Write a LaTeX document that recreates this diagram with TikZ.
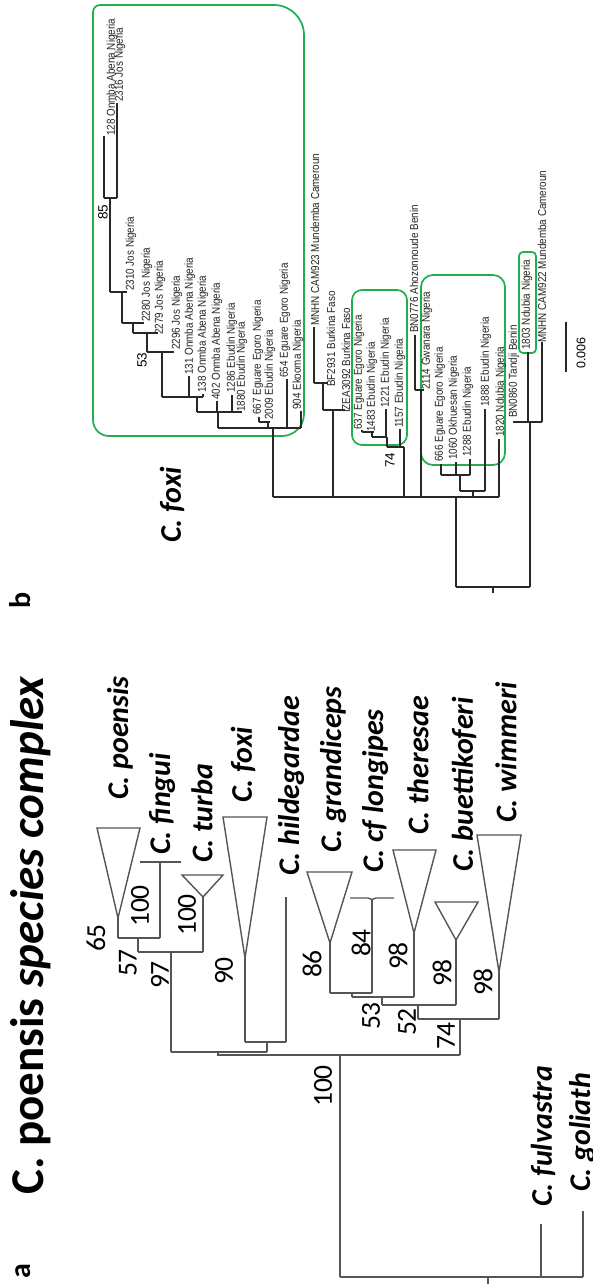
\documentclass[tikz,border=0pt]{standalone}
\usepackage{fontspec}
\usepackage{graphicx}
\setmainfont{Liberation Sans}
\newfontfamily\calfont{Carlito}
\definecolor{lineA}{RGB}{85,85,85}
\definecolor{lineB}{RGB}{40,40,40}
\definecolor{boxgreen}{RGB}{34,174,78}
\newcommand\blt[1]{\scalebox{0.86}[1]{#1}}
\begin{document}
\begin{tikzpicture}[x=1pt,y=-1pt,
  la/.style={line width=1.4pt, draw=lineA, line join=miter},
  lb/.style={line width=1.2pt, draw=lineB},
  gbox/.style={draw=boxgreen, line width=1.7pt},
  sp/.style={rotate=90, anchor=west, inner sep=0pt, font=\calfont\bfseries\itshape\fontsize{30}{30}\selectfont},
  bsa/.style={rotate=90, inner sep=0pt, font=\calfont\fontsize{27.5}{28}\selectfont},
  blab/.style={rotate=90, anchor=west, inner sep=0pt, font=\fontsize{11.5}{12}\selectfont, text=black!85},
  bsb/.style={rotate=90, inner sep=0pt, font=\fontsize{13.5}{14}\selectfont},
  plab/.style={rotate=90, inner sep=0pt, font=\calfont\bfseries\fontsize{30}{30}\selectfont},
]
\useasboundingbox (0,0) rectangle (592,1284);
\fill[white] (0,0) rectangle (592,1284);

% ================= PANEL A =================
\node[plab] (pa) at (23,1271) {a};
\node[rotate=90, anchor=west, inner sep=0pt, font=\calfont\bfseries\fontsize{47}{47}\selectfont] (title) at (31,1195) {C. poensis \textit{species complex}};

% root and outgroups
\draw[la] (340,1277) -- (583,1277);
\draw[la] (488,1277) -- (488,1284);
\draw[la] (541,1277) -- (541,1224);
\draw[la] (583,1277) -- (583,1211);
% ingroup stem
\draw[la] (340,1277) -- (340,1055);
\draw[la] (171,1052) -- (267,1052);
\draw[la] (218,1055) -- (460,1055);
\draw[la] (218,1052) -- (218,1056);
% group poensis / fingui / turba
\draw[la] (171,1052) -- (171,952);
\draw[la] (138,952) -- (203,952);
\draw[la] (138,952) -- (138,938);
\draw[la] (118,938) -- (160,938);
\draw[la] (118,938) -- (118,918);
\draw[la] (118,918) -- (97,828) -- (140,828) -- cycle;
\draw[la] (160,938) -- (160,862);
\draw[la] (140,862) -- (181,862);
\draw[la] (203,952) -- (203,897);
\draw[la] (203,897) -- (182,875) -- (223,875) -- cycle;
% foxi / hildegardae
\draw[la] (267,1052) -- (267,1042);
\draw[la] (245,1042) -- (286,1042);
\draw[la] (245,1042) -- (245,958);
\draw[la] (245,958) -- (223,817) -- (267,817) -- cycle;
\draw[la] (286,1042) -- (286,897);
% second group
\draw[la] (460,1055) -- (460,1019);
\draw[la] (418,1019) -- (499,1019);
\draw[la] (499,1019) -- (499,972);
\draw[la] (499,972) -- (477,835) -- (521,835) -- cycle;
\draw[la] (418,1019) -- (418,1005);
\draw[la] (382,1005) -- (456,1005);
\draw[la] (456,1005) -- (456,940);
\draw[la] (456,940) -- (435,902) -- (478,902) -- cycle;
\draw[la] (382,1005) -- (382,997);
\draw[la] (352,997) -- (414,997);
\draw[la] (414,997) -- (414,933);
\draw[la] (414,933) -- (393,850) -- (436,850) -- cycle;
\draw[la] (352,997) -- (352,993);
\draw[la] (330,993) -- (372,993);
\draw[la] (330,993) -- (330,943);
\draw[la] (330,943) -- (307,872) -- (352,872) -- cycle;
\draw[la] (372,993) -- (372,899);
\draw[la] (350,898) -- (368,898) -- (372,899.5) -- (376,898) -- (394,898);

% bootstrap values panel a
\node[bsa] (b65) at (96,938) {65};
\node[bsa] (b100a) at (140,906) {100};
\node[bsa] (b57) at (128,963) {57};
\node[bsa] (b100b) at (187,915) {100};
\node[bsa] (b97) at (160,975) {97};
\node[bsa] (b90) at (224,971) {90};
\node[bsa] (b100c) at (323,1086) {100};
\node[bsa] (b86) at (312,964) {86};
\node[bsa] (b84) at (361,943) {84};
\node[bsa] (b98a) at (398,956) {98};
\node[bsa] (b53) at (371,1016) {53};
\node[bsa] (b98b) at (442,973) {98};
\node[bsa] (b52) at (407,1022) {52};
\node[bsa] (b98c) at (483,982) {98};
\node[bsa] (b74) at (446,1036) {74};

% species labels
\node[sp] (spoe) at (120,800) {C. poensis};
\node[sp] (sfin) at (162,855) {C. fingui};
\node[sp] (stur) at (202,863) {C. turba};
\node[sp] (sfox) at (243,803) {C. foxi};
\node[sp] (shil) at (291,876) {C. hildegardae};
\node[sp] (sgra) at (333,853) {C. grandiceps};
\node[sp] (slon) at (375,873) {C. cf longipes};
\node[sp] (sthe) at (418,835) {C. theresae};
\node[sp] (sbue) at (464,872) {C. buettikoferi};
\node[sp] (swim) at (506,823) {C. wimmeri};
\node[sp] (sful) at (543,1207) {C. fulvastra};
\node[sp] (sgol) at (582,1192) {C. goliath};

% ================= PANEL B =================
\node[plab] (pb) at (20,600) {b};
\node[sp] (bfoxi) at (172,543) {C. foxi};

% green boxes
\draw[gbox] (93,200) [rounded corners=7pt] -- (93,5) [rounded corners=30pt] -- (304,5) [rounded corners=22pt] -- (304,436) [rounded corners=16pt] -- (93,436) [sharp corners] -- (93,200);
\draw[gbox, rounded corners=10pt] (352,290) rectangle (407,445);
\draw[gbox, rounded corners=12pt] (421,275) rectangle (505,465);
\draw[gbox, rounded corners=4pt] (519,252) rectangle (536,353);

% tree lines
\draw[lb] (456,587) -- (530,587);
\draw[lb] (493,587) -- (493,593);
\draw[lb] (456,587) -- (456,497);
\draw[lb] (273,497) -- (499,497);
\draw[lb] (530,587) -- (530,422);
\draw[lb] (513,422) -- (542,422);
\draw[lb] (528,422) -- (528,352);
\draw[lb] (542,422) -- (542,342);
% big clade
\draw[lb] (273,497) -- (273,428);
\draw[lb] (218,428) -- (301,428);
\draw[lb] (301,428) -- (301,411);
\draw[lb] (287,428) -- (287,379);
\draw[lb] (268,428) -- (268,422);
\draw[lb] (259,422) -- (270,422);
\draw[lb] (259,422) -- (259,417);
\draw[lb] (218,428) -- (218,412);
\draw[lb] (197,412) -- (242,412);
\draw[lb] (232,412) -- (232,395);
\draw[lb] (217,412) -- (217,401);
\draw[lb] (197,412) -- (197,397);
\draw[lb] (162,397) -- (203,397);
\draw[lb] (189,397) -- (189,376);
\draw[lb] (203,397) -- (203,394);
\draw[lb] (162,397) -- (162,352);
\draw[lb] (147,352) -- (174,352);
\draw[lb] (147,352) -- (147,333);
\draw[lb] (133,333) -- (158,333);
\draw[lb] (133,333) -- (133,323);
\draw[lb] (122,323) -- (144,323);
\draw[lb] (122,323) -- (122,292);
\draw[lb] (110,292) -- (127,292);
\draw[lb] (110,292) -- (110,198);
\draw[lb] (104,198) -- (117,198);
\draw[lb] (104,198) -- (104,136);
\draw[lb] (117,198) -- (117,103);
% BF clade
\draw[lb] (333,497) -- (333,410);
\draw[lb] (323,410) -- (345,410);
\draw[lb] (323,410) -- (323,383);
\draw[lb] (314,383) -- (328,383);
\draw[lb] (314,383) -- (314,327);
% 74 clade
\draw[lb] (404,497) -- (404,447);
\draw[lb] (387,447) -- (404,447);
\draw[lb] (400,447) -- (400,429);
\draw[lb] (387,447) -- (387,437);
\draw[lb] (372,437) -- (386,437);
\draw[lb] (386,437) -- (386,409);
\draw[lb] (372,437) -- (372,432);
\draw[lb] (362,432) -- (374,432);
\draw[lb] (362,432) -- (362,430);
% BN0776 / 2114
\draw[lb] (421,497) -- (421,390);
\draw[lb] (415,390) -- (424,390);
\draw[lb] (415,390) -- (415,335);
% 666 clade
\draw[lb] (473,497) -- (473,491);
\draw[lb] (460,491) -- (485,491);
\draw[lb] (485,491) -- (485,409);
\draw[lb] (460,491) -- (460,475);
\draw[lb] (441,475) -- (470,475);
\draw[lb] (441,475) -- (441,464);
\draw[lb] (456,475) -- (456,462);
\draw[lb] (470,475) -- (470,459);
% 1820
\draw[lb] (499,497) -- (499,439);

% scale bar
\coordinate (sc1) at (566,322);
\coordinate (sc2) at (566,372);
\draw[lb] (sc1) -- (sc2);
\node[rotate=90, inner sep=0pt, font=\fontsize{12.5}{13}\selectfont] (scl) at (581,353) {0.006};

% bootstrap panel b
\node[bsb] (c85) at (103,212) {85};
\node[bsb] (c53) at (142,360) {53};
\node[bsb] (c74) at (390,460) {74};

% tip labels
\node[blab] (t128) at (112,136) {\blt{128 Onmba Abena Nigeria}};
\node[blab] (t2316) at (120,102) {\blt{2316 Jos Nigeria}};
\node[blab] (t2310) at (131,291) {\blt{2310 Jos Nigeria}};
\node[blab] (t2280) at (147,322) {\blt{2280 Jos Nigeria}};
\node[blab] (t2279) at (160,335) {\blt{2279 Jos Nigeria}};
\node[blab] (t2296) at (177,350) {\blt{2296 Jos Nigeria}};
\node[blab] (t131) at (190,375) {\blt{131 Onmba Abena Nigeria}};
\node[blab] (t138) at (203,393) {\blt{138 Onmba Abena Nigeria}};
\node[blab] (t402) at (217,400) {\blt{402 Onmba Abena Nigeria}};
\node[blab] (t1286) at (232,393) {\blt{1286 Ebudin Nigeria}};
\node[blab] (t1880) at (242,412) {\blt{1880 Ebudin Nigeria}};
\node[blab] (t667) at (258,415) {\blt{667 Eguare Egoro Nigeria}};
\node[blab] (t2009) at (270,420) {\blt{2009 Ebudin Nigeria}};
\node[blab] (t654) at (285,378) {\blt{654 Eguare Egoro Nigeria}};
\node[blab] (t904) at (298,410) {\blt{904 Ekooma Nigeria}};
\node[blab] (tcam923) at (315,326) {\blt{MNHN CAM923 Mundemba Cameroun}};
\node[blab] (tbf) at (331,387) {\blt{BF2931 Burkina Faso}};
\node[blab] (tizea) at (346,413) {\blt{IZEA3092 Burkina Faso}};
\node[blab] (t637) at (359,430) {\blt{637 Eguare Egoro Nigeria}};
\node[blab] (t1483) at (372,432) {\blt{1483 Ebudin Nigeria}};
\node[blab] (t1221) at (386,408) {\blt{1221 Ebudin Nigeria}};
\node[blab] (t1157) at (400,428) {\blt{1157 Ebudin Nigeria}};
\node[blab] (tbn776) at (414,333) {\blt{BN0776 Ahozonnoude Benin}};
\node[blab] (t2114) at (427,390) {\blt{2114 Gwanara Nigeria}};
\node[blab] (t666) at (440,462) {\blt{666 Eguare Egoro Nigeria}};
\node[blab] (t1060) at (454,460) {\blt{1060 Okhuesan Nigeria}};
\node[blab] (t1288) at (468,457) {\blt{1288 Ebudin Nigeria}};
\node[blab] (t1888) at (486,407) {\blt{1888 Ebudin Nigeria}};
\node[blab] (t1820) at (501,437) {\blt{1820 Ndubia Nigeria}};
\node[blab] (tbn860) at (514,418) {\blt{BN0860 Tandji Benin}};
\node[blab] (t1803) at (527,350) {\blt{1803 Ndubia Nigeria}};
\node[blab] (tcam922) at (542,343) {\blt{MNHN CAM922 Mundemba Cameroun}};
\end{tikzpicture}
\end{document}
